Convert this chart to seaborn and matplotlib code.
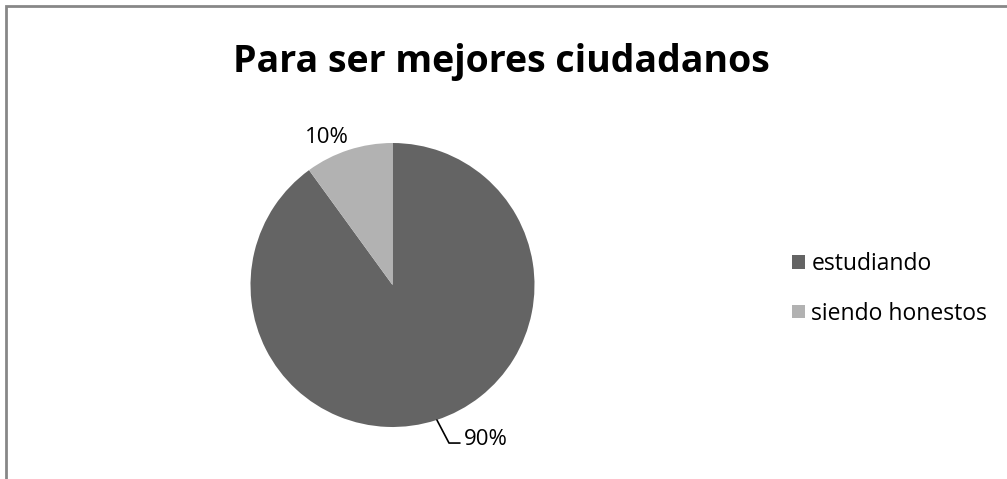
import matplotlib
matplotlib.use("Agg")
import matplotlib.pyplot as plt
import seaborn as sns
from matplotlib.patches import Rectangle

sns.set_style("white")
plt.rcParams['font.family'] = ['Open Sans', 'DejaVu Sans']
plt.rcParams['text.color'] = 'black'

# datos
categorias = ['estudiando', 'siendo honestos']
valores = [90, 10]
etiquetas = ['90%', '10%']
colores = ['#646464', '#b2b2b2']

W, H = 1007, 479
fig = plt.figure(figsize=(W / 100, H / 100), dpi=100)

# marco gris del grafico (solo se ven arriba e izquierda)
fig.patches.append(Rectangle((6 / W, -0.1), 1.2, 1.1 - 6 / H,
                             transform=fig.transFigure, fill=False,
                             edgecolor='#878787', linewidth=2))

# eje del pastel: centro (392.5, 285), radio 142 px
cx, cy, r = 392.5, 285, 142
ax = fig.add_axes([(cx - r) / W, 1 - (cy + r) / H, 2 * r / W, 2 * r / H])
wedges, _ = ax.pie(valores, colors=colores, startangle=90, counterclock=False,
                   wedgeprops=dict(linewidth=0))
ax.set_aspect('equal')
ax.set_xlim(-1, 1)
ax.set_ylim(-1, 1)
ax.axis('off')

# etiquetas de datos
ax.text(-0.465, 1.0, etiquetas[1], fontsize=16, ha='center', va='baseline',
        clip_on=False)
ax.text(0.50, -1.127, etiquetas[0], fontsize=16, ha='left', va='baseline',
        clip_on=False)
ax.plot([0.313, 0.398, 0.475], [-0.951, -1.113, -1.113], color='black', lw=1.2,
        clip_on=False)

fig.text(0.4975, 1 - 72 / H, 'Para ser mejores ciudadanos', fontsize=27,
         fontweight='bold', ha='center', va='baseline')

fig.legend(wedges, categorias, loc='center left',
           bbox_to_anchor=(792 / W, 1 - 289 / H),
           frameon=False, fontsize=16.5, handlelength=0.55, handleheight=0.55,
           labelspacing=1.1, handletextpad=0.3, borderpad=0, borderaxespad=0)

fig.savefig('out.png', dpi=100)
